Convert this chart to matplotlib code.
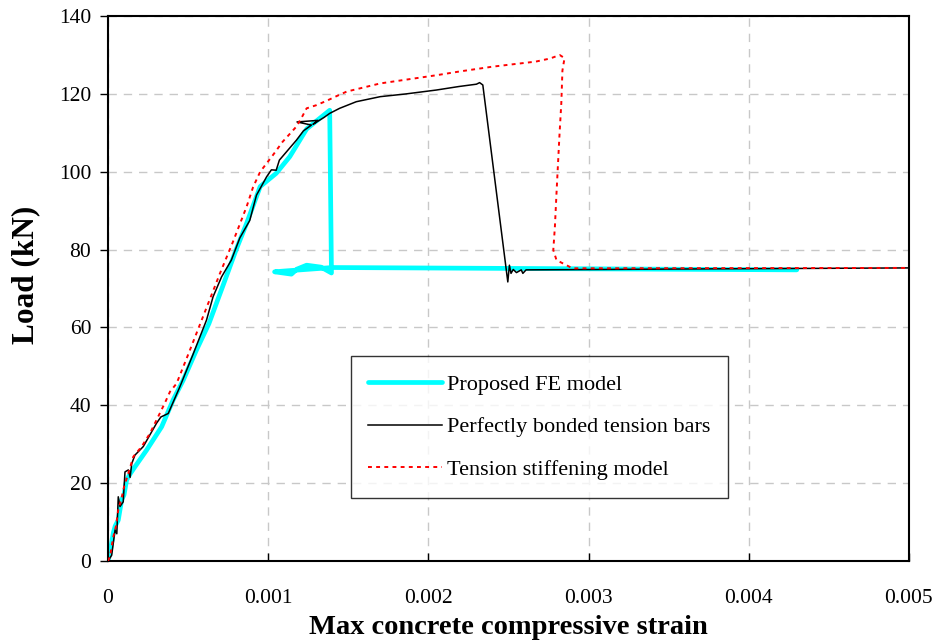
import matplotlib
matplotlib.use("Agg")
import matplotlib.pyplot as plt

plt.rcParams["font.family"] = ["Liberation Serif", "DejaVu Serif"]

# Proposed FE model (cyan)
fe_strain = [0, 0.000012, 0.000033, 0.000045, 0.000064, 0.000085, 0.000100, 0.000116, 0.00014,
             0.000168, 0.000241, 0.000335, 0.000407, 0.00047, 0.00055, 0.00063, 0.00072, 0.0008,
             0.000865, 0.00095, 0.00105, 0.001135, 0.00124, 0.0013, 0.001384, 0.001395, 0.00133,
             0.00124, 0.00118, 0.001145, 0.00104, 0.0011, 0.0014, 0.0043]
fe_load = [0, 2, 7.2, 9, 10.5, 15.7, 17, 20.8, 22.5,
           24.2, 28.5, 34.5, 41.4, 46.5, 54, 61, 71, 80,
           86.7, 96.2, 99.6, 103.9, 111, 113, 115.8, 74, 75.5,
           76, 75, 73.7, 74.3, 74.5, 75.4, 74.8]

# Perfectly bonded tension bars (black)
pb_strain = [0, 0.000023, 0.000044, 0.000055, 0.000064, 0.000075, 0.000095, 0.000106, 0.000127,
             0.000138, 0.000148, 0.000168, 0.00022, 0.000303, 0.00033, 0.000376, 0.000449, 0.00053,
             0.000615, 0.000656, 0.000709, 0.00077, 0.000823, 0.000885, 0.000927, 0.00099, 0.00102,
             0.00105, 0.00107, 0.001176, 0.00122, 0.00127, 0.00118, 0.00131, 0.00128, 0.00135,
             0.001384, 0.001446, 0.00155, 0.0017, 0.00186, 0.00205, 0.00219, 0.0023, 0.00232,
             0.00234, 0.002496, 0.002506, 0.002516, 0.00253, 0.00255, 0.00258, 0.00259, 0.00261,
             0.0035, 0.005]
pb_load = [0, 1.5, 8, 7, 16.5, 14, 15.2, 22.9, 23.4,
           21.5, 25, 27.2, 29.4, 35.4, 37, 37.9, 44.8, 53,
           61.9, 67.9, 73, 77.3, 83, 87.5, 94, 98.7, 100.5,
           100.4, 103, 108.1, 110.5, 112, 112.8, 113.2, 112.2, 114,
           115, 116.3, 118, 119.3, 120, 121, 121.9, 122.5, 122.9,
           122.3, 71.7, 76, 73.9, 74.9, 74.1, 74.8, 73.9, 74.8,
           75.0, 75.3]

# Tension stiffening model (red dotted)
ts_strain = [0, 0.000012, 0.000033, 0.00005, 0.000064, 0.000085, 0.0001, 0.000137, 0.000158,
             0.00021, 0.000262, 0.000293, 0.000355, 0.000387, 0.000428, 0.0005, 0.0006, 0.0007,
             0.00078, 0.000865, 0.000906, 0.00095, 0.00103, 0.00109, 0.001176, 0.00121, 0.00124,
             0.0013, 0.001363, 0.001425, 0.00149, 0.0017, 0.00205, 0.0022, 0.0024, 0.00267,
             0.00276, 0.00282, 0.00285, 0.002837, 0.00283, 0.002818, 0.0028, 0.00279, 0.00278,
             0.0028, 0.0029, 0.005]
ts_load = [0, 1.1, 6.2, 9, 13.1, 16.2, 19, 23.9, 26.8,
           29.4, 32.8, 35.4, 40.6, 43.5, 45.6, 53, 63.5, 74,
           82, 91, 96.1, 100, 104.3, 107.7, 111.6, 114, 116.3,
           117.1, 118.2, 119.4, 120.6, 122.7, 124.8, 125.8, 127, 128.3,
           129.1, 130, 129.2, 126, 117.6, 109, 94.5, 85.9, 79.9,
           77.3, 75.2, 75.3]

fig = plt.figure(figsize=(9.4, 6.43), dpi=100)
ax = fig.add_axes([0.1149, 0.1275, 0.852, 0.8475])

ax.plot(fe_strain, fe_load, color="#00ffff", lw=3.4, label="Proposed FE model",
        solid_capstyle="round", solid_joinstyle="round", zorder=2)
ax.plot(pb_strain, pb_load, color="black", lw=1.1, label="Perfectly bonded tension bars", zorder=3)
ax.plot(ts_strain, ts_load, color="red", lw=1.4, ls=(0, (2, 2.2)), label="Tension stiffening model",
        zorder=4)

ax.set_xlim(0, 0.005)
ax.set_ylim(0, 140)
ax.set_xticks([0, 0.001, 0.002, 0.003, 0.004, 0.005])
ax.set_xticklabels(["0", "0.001", "0.002", "0.003", "0.004", "0.005"])
ax.set_yticks(range(0, 141, 20))
ax.grid(True, color="#c8c8c8", ls=(0, (6, 5)), lw=1.0)
ax.set_axisbelow(True)

for s in ax.spines.values():
    s.set_linewidth(1.5)
ax.tick_params(axis="x", direction="in", length=6, width=1, pad=20, labelsize=15.5)
ax.tick_params(axis="y", direction="out", length=6, width=1, pad=6, labelsize=15.5)

ax.set_xlabel("Max concrete compressive strain", fontsize=20.5, fontweight="bold", labelpad=5)
ax.set_ylabel("Load (kN)", fontsize=22.5, fontweight="bold")
ax.yaxis.set_label_coords(-0.085, 0.525)

leg = ax.legend(loc="lower left", bbox_to_anchor=(0.303, 0.1156), fontsize=16, frameon=True,
                fancybox=False, edgecolor="black", handlelength=3.3, handletextpad=0.25,
                labelspacing=1.0, borderpad=0.8, borderaxespad=0)
leg.get_frame().set_linewidth(1.0)

fig.savefig("out.png", dpi=100)
